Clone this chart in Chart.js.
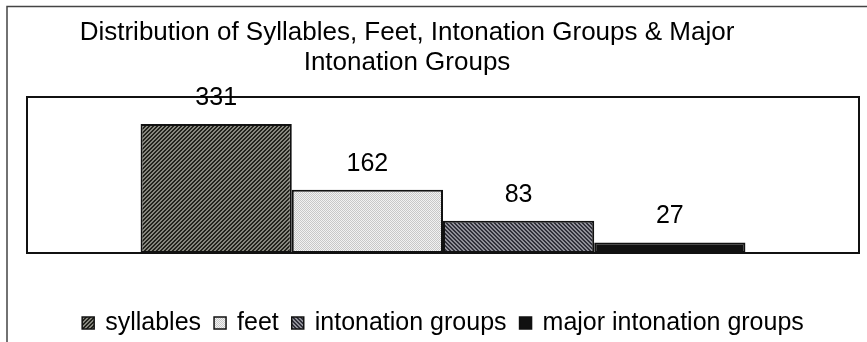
<!DOCTYPE html>
<html>
<head>
<meta charset="utf-8">
<script src="https://cdn.jsdelivr.net/npm/chart.js@4"></script>
<style>
  html, body { margin: 0; padding: 0; background: #fff; }
  #wrap { width: 867px; height: 342px; }
</style>
</head>
<body>
<div id="wrap"><canvas id="chart" width="867" height="342"></canvas></div>
<script>
const titleLines = ["Distribution of Syllables, Feet, Intonation Groups & Major", "Intonation Groups"];
const seriesNames = ["syllables", "feet", "intonation groups", "major intonation groups"];
const seriesValues = [331, 162, 83, 27];
const categories = [""];
const yMax = 400;

const FONT = "'Liberation Sans', Arial, sans-serif";

// small tiled fills for the bars
const makePattern = (size, draw) => {
    const c = document.createElement("canvas");
    c.width = size; c.height = size;
    const g = c.getContext("2d");
    draw(g, size);
    return g.createPattern(c, "repeat");
};

const hatchUp = makePattern(4, (g, s) => {
    g.fillStyle = "#86867e"; g.fillRect(0, 0, s, s);
    g.fillStyle = "#22221c";
    for (let i = 0; i < s; i++) { g.fillRect(i, s - 1 - i, 1, 1); g.fillRect(i, (2 * s - 2 - i) % s, 1, 1); }
});
const dots = makePattern(2, (g, s) => {
    g.fillStyle = "#f2f2f2"; g.fillRect(0, 0, s, s);
    g.fillStyle = "#c8c8c8"; g.fillRect(0, 0, 1, 1); g.fillRect(1, 1, 1, 1);
});
const hatchDown = makePattern(4, (g, s) => {
    g.fillStyle = "#909098"; g.fillRect(0, 0, s, s);
    g.fillStyle = "#30303a";
    for (let i = 0; i < s; i++) { g.fillRect(i, i, 1, 1); g.fillRect(i, (i + 1) % s, 1, 1); }
});
const fills = [hatchUp, dots, hatchDown, "#111111"];

// frame, title, plot box, value labels and legend
const decor = {
    id: "decor",
    beforeDraw(chart) {
        const ctx = chart.ctx;
        ctx.save();
        ctx.fillStyle = "#fff";
        ctx.fillRect(0, 0, chart.width, chart.height);
        ctx.strokeStyle = "#444";
        ctx.lineWidth = 1.5;
        ctx.beginPath();
        ctx.moveTo(7, chart.height);
        ctx.lineTo(7, 6.5);
        ctx.lineTo(chart.width, 6.5);
        ctx.stroke();

        ctx.fillStyle = "#000";
        ctx.font = "26px " + FONT;
        ctx.textAlign = "center";
        ctx.textBaseline = "alphabetic";
        ctx.fillText(titleLines[0], 407, 40);
        ctx.fillText(titleLines[1], 407, 70);
        ctx.restore();
    },
    afterDatasetsDraw(chart) {
        const ctx = chart.ctx;
        const a = chart.chartArea;
        ctx.save();
        ctx.strokeStyle = "#111";
        ctx.lineWidth = 2;
        ctx.strokeRect(a.left, a.top, a.right - a.left, a.bottom - a.top);

        ctx.fillStyle = "#000";
        ctx.font = "25px " + FONT;
        ctx.textAlign = "center";
        ctx.textBaseline = "alphabetic";
        chart.data.datasets.forEach((ds, i) => {
            const bar = chart.getDatasetMeta(i).data[0];
            ctx.fillText(String(ds.data[0]), bar.x, bar.y - 19);
        });

        // legend row
        ctx.font = "25px " + FONT;
        ctx.textAlign = "left";
        const box = 12, gap = 11, spacing = 13;
        const widths = chart.data.datasets.map(ds => box + gap + ctx.measureText(ds.label).width);
        const total = widths.reduce((s, w) => s + w, 0) + spacing * (widths.length - 1);
        let x = (a.left + a.right) / 2 - total / 2;
        const base = 330;
        chart.data.datasets.forEach((ds, i) => {
            ctx.fillStyle = ds.backgroundColor;
            ctx.fillRect(x, base - 13, box, box);
            ctx.strokeStyle = "#111";
            ctx.lineWidth = 1.5;
            ctx.strokeRect(x, base - 13, box, box);
            ctx.fillStyle = "#000";
            ctx.fillText(ds.label, x + box + gap, base);
            x += widths[i] + spacing;
        });
        ctx.restore();
    }
};

new Chart(document.getElementById("chart"), {
    type: "bar",
    data: {
        labels: categories,
        datasets: seriesNames.map((name, i) => ({
            label: name,
            data: [seriesValues[i]],
            backgroundColor: fills[i],
            borderColor: "#111",
            borderWidth: 2,
            borderSkipped: false,
            categoryPercentage: 0.727,
            barPercentage: 1.0
        }))
    },
    options: {
        responsive: false,
        animation: false,
        layout: { padding: { left: 27, top: 97, right: 8, bottom: 89 } },
        scales: {
            x: { display: false },
            y: { display: false, min: 0, max: yMax }
        },
        plugins: {
            legend: { display: false },
            title: { display: false },
            tooltip: { enabled: false }
        }
    },
    plugins: [decor]
});
</script>
</body>
</html>
